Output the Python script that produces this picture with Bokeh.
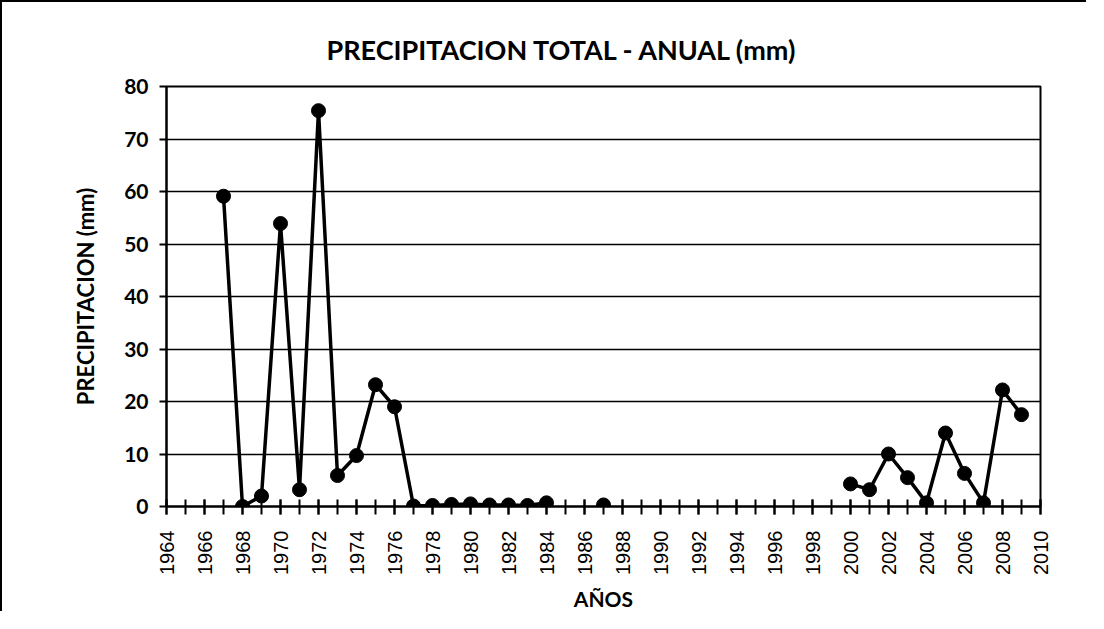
import math
from bokeh.plotting import figure
from bokeh.models import FixedTicker, Range1d
from bokeh.embed import file_html
from bokeh.resources import INLINE

# ---- data ----
years = [1967, 1968, 1969, 1970, 1971, 1972, 1973, 1974, 1975, 1976,
         1977, 1978, 1979, 1980, 1981, 1982, 1983, 1984,
         1987,
         2000, 2001, 2002, 2003, 2004, 2005, 2006, 2007, 2008, 2009]
precip = [59.1, 0.0, 2.0, 53.9, 3.2, 75.4, 5.9, 9.7, 23.2, 19.0,
          0.1, 0.2, 0.4, 0.5, 0.3, 0.3, 0.2, 0.7,
          0.3,
          4.3, 3.2, 10.0, 5.5, 0.7, 14.0, 6.3, 0.7, 22.2, 17.5]
x_tick_labels = [str(y) for y in range(1964, 2011, 2)]
y_ticks = [0, 10, 20, 30, 40, 50, 60, 70, 80]

# break the line where years are missing
line_x, line_y = [], []
for i, (yr, v) in enumerate(zip(years, precip)):
    if i > 0 and yr - years[i - 1] > 1:
        line_x.append(float("nan"))
        line_y.append(float("nan"))
    line_x.append(yr)
    line_y.append(v)

p = figure(width=1086, height=611, output_backend="svg", toolbar_location=None,
           x_range=Range1d(1964, 2010), y_range=Range1d(0, 80),
           min_border_left=164, min_border_right=48, min_border_top=84,
           min_border_bottom=106,
           title="PRECIPITACION TOTAL - ANUAL (mm)")
p.styles = {"border-left": "2px solid black", "border-top": "2px solid black"}

p.title.text_font = "Lato"
p.title.text_font_style = "bold"
p.title.text_font_size = "27px"
p.title.align = "left"
p.title.offset = 160
p.title.standoff = 42
p.title.text_color = "black"

p.line(line_x, line_y, line_color="black", line_width=3.5)
p.scatter(years, precip, size=14, fill_color="black", line_color="black")

# axes
p.xaxis.ticker = FixedTicker(ticks=[int(t) for t in x_tick_labels],
                             minor_ticks=list(range(1964, 2011)))
p.xaxis.major_label_orientation = math.pi / 2
p.xaxis.major_label_text_font = "Liberation Sans"
p.xaxis.major_label_text_font_size = "20px"
p.xaxis.major_label_text_color = "black"
p.xaxis.major_label_standoff = 16
p.xaxis.major_tick_in = 7
p.xaxis.major_tick_out = 8
p.xaxis.minor_tick_in = 7
p.xaxis.minor_tick_out = 8
p.xaxis.minor_tick_line_color = "black"
p.xaxis.major_tick_line_color = "black"
p.xaxis.major_tick_line_width = 2
p.xaxis.minor_tick_line_width = 2
p.xaxis.axis_line_width = 2
p.xaxis.axis_line_color = "black"
p.xaxis.axis_label = "AÑOS"
p.xaxis.axis_label_text_font = "Lato"
p.xaxis.axis_label_text_font_style = "bold"
p.xaxis.axis_label_text_font_size = "21px"
p.xaxis.axis_label_text_color = "black"
p.xaxis.axis_label_standoff = 8

p.yaxis.ticker = FixedTicker(ticks=y_ticks, minor_ticks=[])
p.yaxis.major_label_text_font = "Lato"
p.yaxis.major_label_text_font_style = "bold"
p.yaxis.major_label_text_font_size = "21px"
p.yaxis.major_label_text_color = "black"
p.yaxis.major_label_standoff = 11
p.yaxis.major_tick_in = 0
p.yaxis.major_tick_out = 7
p.yaxis.major_tick_line_width = 2
p.yaxis.major_tick_line_color = "black"
p.yaxis.axis_line_width = 2
p.yaxis.axis_line_color = "black"
p.yaxis.axis_label = "PRECIPITACION (mm)"
p.yaxis.axis_label_text_font = "Lato"
p.yaxis.axis_label_text_font_style = "bold"
p.yaxis.axis_label_text_font_size = "22px"
p.yaxis.axis_label_text_color = "black"
p.yaxis.axis_label_standoff = 22

p.xgrid.grid_line_color = None
p.ygrid.grid_line_color = "black"
p.ygrid.grid_line_width = 1.5
p.ygrid.grid_line_alpha = 1.0

p.outline_line_color = "black"
p.outline_line_width = 2
p.outline_line_alpha = 1.0
p.background_fill_color = "white"
p.border_fill_color = "white"

open("out.html", "w").write(file_html(p, INLINE))
